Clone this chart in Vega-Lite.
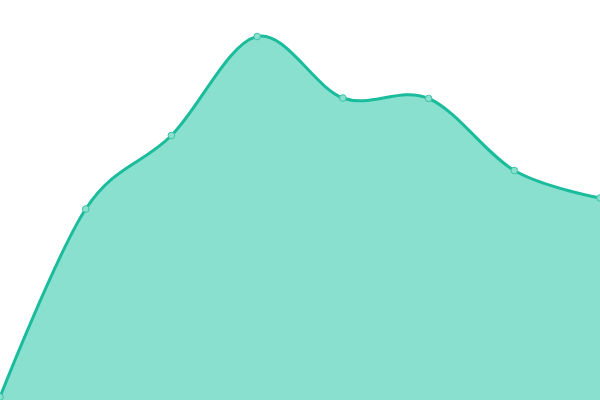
{
  "$schema": "https://vega.github.io/schema/vega-lite/v6.json",
  "width": 600,
  "height": 400,
  "autosize": {"type": "none"},
  "padding": 0,
  "background": "white",
  "config": {"view": {"stroke": null}},
  "data": {"values": [
    {"i": 0, "v": 3},
    {"i": 1, "v": 191},
    {"i": 2, "v": 264.5},
    {"i": 3, "v": 363.5},
    {"i": 4, "v": 302},
    {"i": 5, "v": 301.5},
    {"i": 6, "v": 229.5},
    {"i": 7, "v": 202}
  ]},
  "encoding": {
    "x": {"field": "i", "type": "quantitative", "axis": null, "scale": {"domain": [0, 7], "nice": false, "zero": false}},
    "y": {"field": "v", "type": "quantitative", "axis": null, "scale": {"domain": [0, 400], "nice": false}}
  },
  "layer": [
    {"mark": {"type": "area", "interpolate": "cardinal", "color": "#89e0cf", "opacity": 1}},
    {"mark": {"type": "line", "interpolate": "cardinal", "color": "#1abc9c", "strokeWidth": 3}},
    {"mark": {"type": "point", "filled": true, "fill": "#89e0cf", "stroke": "#3cc4a6", "strokeWidth": 1, "size": 44, "opacity": 1}}
  ]
}
